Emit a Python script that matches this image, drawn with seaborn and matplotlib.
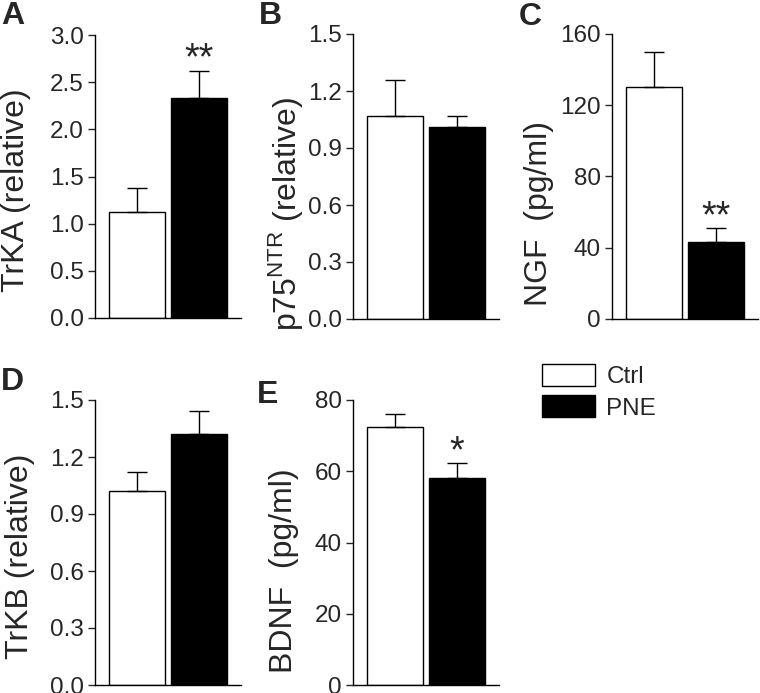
import matplotlib
matplotlib.use("Agg")
import matplotlib.pyplot as plt
import seaborn as sns
import pandas as pd
from matplotlib.patches import Patch

sns.set_style("ticks")
plt.rcParams["font.family"] = ["Liberation Sans", "DejaVu Sans"]
plt.rcParams["mathtext.fontset"] = "custom"
plt.rcParams["mathtext.rm"] = "Liberation Sans"

# values (mean and upper error)
groups = ["Ctrl", "PNE"]
trka_mean = [1.12, 2.33]
trka_err = [0.26, 0.29]
p75_mean = [1.07, 1.01]
p75_err = [0.19, 0.06]
ngf_mean = [130, 43]
ngf_err = [20, 8]
trkb_mean = [1.02, 1.32]
trkb_err = [0.10, 0.12]
bdnf_mean = [72.5, 58.2]
bdnf_err = [3.5, 4.0]

trka_stars = ["", "**"]
p75_stars = ["", ""]
ngf_stars = ["", "**"]
trkb_stars = ["", ""]
bdnf_stars = ["", "*"]

panels = [
    ("A", "TrKA (relative)", trka_mean, trka_err, trka_stars, [0, 0.5, 1.0, 1.5, 2.0, 2.5, 3.0], "%.1f"),
    ("B", "p75$^{\\mathrm{NTR}}$ (relative)", p75_mean, p75_err, p75_stars, [0, 0.3, 0.6, 0.9, 1.2, 1.5], "%.1f"),
    ("C", "NGF  (pg/ml)", ngf_mean, ngf_err, ngf_stars, [0, 40, 80, 120, 160], "%d"),
    ("D", "TrKB (relative)", trkb_mean, trkb_err, trkb_stars, [0, 0.3, 0.6, 0.9, 1.2, 1.5], "%.1f"),
    ("E", "BDNF  (pg/ml)", bdnf_mean, bdnf_err, bdnf_stars, [0, 20, 40, 60, 80], "%d"),
]

W, H = 760, 693
fig = plt.figure(figsize=(W / 100, H / 100), dpi=100)

# axes boxes in pixels: left, top, right, bottom
boxes = [(95, 35, 241, 318), (353, 34, 499, 319), (612, 34, 758, 319),
         (95, 400, 241, 685), (353, 400, 499, 685)]
letter_pos = [(1, 1), (259, 1), (519, 2), (1, 367), (257, 380)]
label_xy = [(-0.44, 0.45), (-0.33, 0.37), (-0.40, 0.37), (-0.41, 0.45), (-0.37, 0.40)]

for (letter, ylab, mean, err, stars, ticks, fmt), box, lp, lxy in zip(panels, boxes, letter_pos, label_xy):
    l, t, r, b = box
    ax = fig.add_axes([l / W, 1 - b / H, (r - l) / W, (b - t) / H])
    df = pd.DataFrame({"group": groups, "value": mean})
    sns.barplot(data=df, x="group", y="value", hue="group", palette=["white", "black"],
                edgecolor="black", linewidth=1, width=0.9, errorbar=None, legend=False, ax=ax)
    ax.errorbar(range(len(groups)), mean, yerr=[[0] * len(err), err], fmt="none",
                ecolor="black", elinewidth=1, capsize=7, capthick=1, zorder=3)
    for i, s in enumerate(stars):
        if s:
            ax.annotate(s, (i, mean[i] + err[i]), xytext=(0, -5), textcoords="offset points",
                        ha="center", va="bottom", fontsize=27)
    ax.set_xlim(-0.68, 1.68)
    ax.set_ylim(0, ticks[-1])
    ax.set_yticks(ticks)
    ax.set_yticklabels([fmt % v for v in ticks])
    ax.set_xticks([])
    ax.set_xlabel("")
    ax.set_ylabel(ylab, fontsize=23)
    ax.yaxis.set_label_coords(*lxy)
    ax.tick_params(axis="y", labelsize=17.5, length=5, width=1, pad=3, direction="out")
    sns.despine(ax=ax)
    for sp in ["left", "bottom"]:
        ax.spines[sp].set_linewidth(1)
        ax.spines[sp].set_color("black")
    fig.text(lp[0] / W, 1 - lp[1] / H, letter, fontsize=23, fontweight="bold", ha="left", va="top")

handles = [Patch(facecolor="white", edgecolor="black", linewidth=1, label="Ctrl"),
           Patch(facecolor="black", edgecolor="black", linewidth=1, label="PNE")]
fig.legend(handles=handles, loc="upper left", bbox_to_anchor=(542 / W, 1 - 364 / H),
           frameon=False, fontsize=17.5, handlelength=2.2, handleheight=1.0,
           handletextpad=0.45, labelspacing=0.3, borderpad=0, borderaxespad=0)

fig.savefig("out.png", dpi=100)
